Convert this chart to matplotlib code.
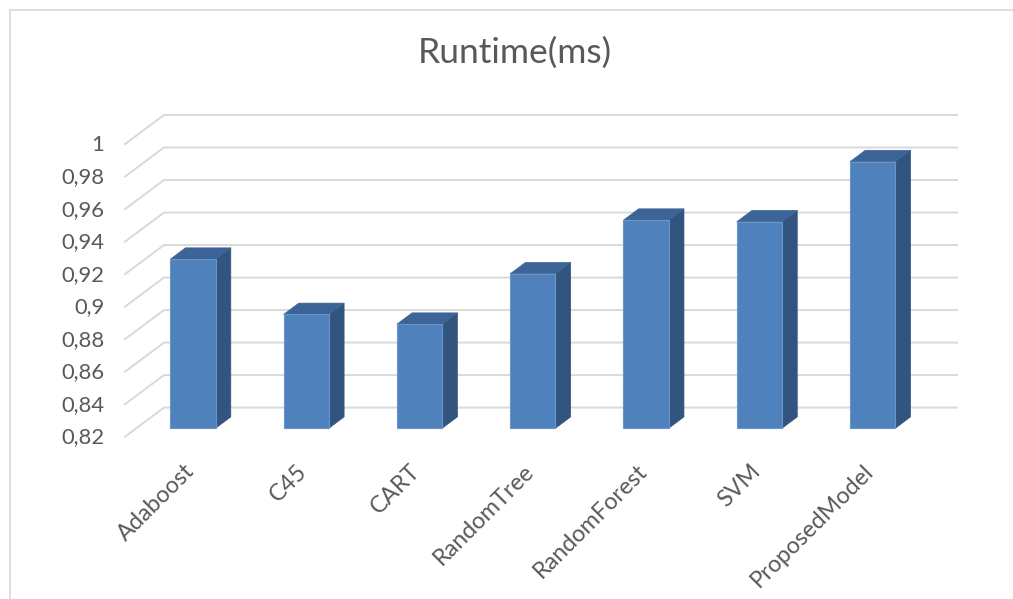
import matplotlib
matplotlib.use("Agg")
import matplotlib.pyplot as plt
from matplotlib.patches import Polygon
from matplotlib.lines import Line2D

categories = ["Adaboost", "C45", "CART", "RandomTree", "RandomForest", "SVM", "ProposedModel"]
runtime = [0.924, 0.890, 0.884, 0.915, 0.948, 0.947, 0.984]
y_ticks = [0.82, 0.84, 0.86, 0.88, 0.90, 0.92, 0.94, 0.96, 0.98, 1.00]
y_tick_labels = ["0,82", "0,84", "0,86", "0,88", "0,9", "0,92", "0,94", "0,96", "0,98", "1"]
title = "Runtime(ms)"

plt.rcParams['font.family'] = ['Lato', 'DejaVu Sans']
TXT = '#595959'
GRID = '#D9D9D9'

W, H = 1013, 599
fig = plt.figure(figsize=(W / 100, H / 100), dpi=100)
fig.patch.set_facecolor('white')

# chart border (left and top visible)
fig.add_artist(Line2D([10 / W, 10 / W], [0, 1 - 10 / H], color=GRID, lw=1.2, transform=fig.transFigure))
fig.add_artist(Line2D([10 / W, 1], [1 - 10 / H, 1 - 10 / H], color=GRID, lw=1.2, transform=fig.transFigure))

ax = fig.add_axes([125 / W, (H - 436.7) / H, 832 / W, 321.7 / H])
n = len(categories)
DX = 0.344     # depth offset in category units
DY = 0.0179    # depth offset in value units
ymin = y_ticks[0]
ax.set_xlim(0, n + DX)
ax.set_ylim(ymin, y_ticks[-1] + DY)
ax.axis('off')


def proj(x, y, f):
    return (x + f * DX, y + f * DY)


# gridlines: side wall diagonal + back wall horizontal
for v in y_ticks:
    ax.plot([0, DX, n + DX], [v, v + DY, v + DY], color=GRID, lw=1.4,
            zorder=1, clip_on=False, solid_joinstyle='miter')

# tick labels
for v, lab in zip(y_ticks, y_tick_labels):
    ax.annotate(lab, xy=(0, v), xytext=(-15, -0.5), textcoords='offset points',
                ha='right', va='center', fontsize=15.8, color=TXT, annotation_clip=False)

# 3D bars
f0, f1 = 0.29, 0.68
half = 0.2
for i, v in enumerate(runtime):
    xl, xr = i + 0.5 - half, i + 0.5 + half
    side = [proj(xr, ymin, f0), proj(xr, ymin, f1), proj(xr, v, f1), proj(xr, v, f0)]
    top = [proj(xl, v, f0), proj(xr, v, f0), proj(xr, v, f1), proj(xl, v, f1)]
    front = [proj(xl, ymin, f0), proj(xr, ymin, f0), proj(xr, v, f0), proj(xl, v, f0)]
    ax.add_patch(Polygon(side, closed=True, facecolor='#32557F', edgecolor='#32557F', lw=0.5, zorder=3, clip_on=False))
    ax.add_patch(Polygon(top, closed=True, facecolor='#3C6496', edgecolor='#3C6496', lw=0.5, zorder=3, clip_on=False))
    ax.add_patch(Polygon(front, closed=True, facecolor='#4F81BD', edgecolor='#6A95CB', lw=0.8, zorder=4, clip_on=False))

# category labels
for i, lab in enumerate(categories):
    ax.annotate(lab, xy=(i + 0.5, ymin), xytext=(6.5, -22.5), textcoords='offset points',
                ha='right', va='center', rotation=45, rotation_mode='anchor',
                fontsize=16.8, color=TXT, annotation_clip=False)

fig.text(515 / W, 1 - 53 / H, title, ha='center', va='center', fontsize=25.5, color=TXT)

fig.savefig('out.png', dpi=100, facecolor='white')
